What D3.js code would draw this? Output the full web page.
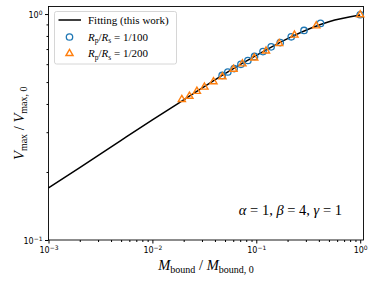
<!DOCTYPE html>
<html>
<head>
<meta charset="utf-8">
<script src="https://cdn.jsdelivr.net/npm/d3@7"></script>
<style>
  body { margin: 0; background: #fff; }
  svg { display: block; }
  .tick text { font-family: "DejaVu Sans", sans-serif; font-size: 8px; fill: #000; }
  .serif { font-family: "Liberation Serif", "DejaVu Serif", serif; fill: #000; }
</style>
</head>
<body>
<div id="chart"></div>
<script>
// fitting curve
var fitX = [0.001, 0.002, 0.005, 0.01, 0.02, 0.05, 0.1, 0.2, 0.5, 1.0];
var fitY = [0.170, 0.209, 0.276, 0.340, 0.417, 0.545, 0.656, 0.779, 0.925, 0.990];

// Rp/Rs = 1/100 (circles)
var circX = [1.0, 0.415, 0.288, 0.217, 0.170, 0.139, 0.116, 0.0962, 0.0830, 0.0711, 0.0612, 0.0532, 0.0469];
var circY = [0.993, 0.909, 0.846, 0.793, 0.748, 0.716, 0.682, 0.649, 0.623, 0.599, 0.574, 0.554, 0.535];

// Rp/Rs = 1/200 (triangles)
var triX = [1.0, 0.378, 0.233, 0.166, 0.124, 0.0955, 0.0736, 0.0603, 0.0472, 0.0387, 0.0317, 0.0268, 0.0227, 0.0192];
var triY = [0.993, 0.887, 0.807, 0.741, 0.687, 0.639, 0.602, 0.570, 0.528, 0.502, 0.475, 0.455, 0.433, 0.419];

var xMajor = [1e-3, 1e-2, 1e-1, 1];
var xLabels = ['-3', '-2', '-1', '0'];
var yMajor = [0.1, 1];
var yLabels = ['-1', '0'];

var width = 374, height = 281;
var padL = 48.5, padR = 363.5, padT = 6.5, padB = 240;

var blue = '#1f77b4', orange = '#ff7f0e';

var svg = d3.select('#chart').append('svg')
    .attr('width', width)
    .attr('height', height);

var x = d3.scaleLog().domain([1e-3, 1.076]).range([padL, padR]);
var y = d3.scaleLog().domain([0.1, 1.08]).range([padB, padT]);

function minorTicks(lo, hi){
    var out = [];
    for(var e = lo; e < hi; e++){
        for(var k = 2; k < 10; k++){
            out.push(k * Math.pow(10, e));
        }
    }
    return out;
}

// minor ticks first
svg.append('g')
    .attr('transform', 'translate(0,' + padB + ')')
    .call(d3.axisBottom(x).tickValues(minorTicks(-3, 0)).tickSize(2).tickSizeOuter(0).tickFormat(''))
    .call(function(g){ g.select('.domain').remove(); });

svg.append('g')
    .attr('transform', 'translate(' + padL + ',0)')
    .call(d3.axisLeft(y).tickValues(minorTicks(-1, 0)).tickSize(2).tickSizeOuter(0).tickFormat(''))
    .call(function(g){ g.select('.domain').remove(); });

// major ticks
var xAxis = svg.append('g')
    .attr('transform', 'translate(0,' + padB + ')')
    .call(d3.axisBottom(x).tickValues(xMajor).tickSize(3.5).tickPadding(3).tickFormat(''));
xAxis.select('.domain').remove();
xAxis.selectAll('.tick text').each(function(d, i){
    var t = d3.select(this).attr('dy', '0.75em');
    t.append('tspan').text('10');
    t.append('tspan').attr('dy', '-0.45em').style('font-size', '6px').text(xLabels[i].replace('-', '\u2212'));
});

var yAxis = svg.append('g')
    .attr('transform', 'translate(' + padL + ',0)')
    .call(d3.axisLeft(y).tickValues(yMajor).tickSize(3.5).tickPadding(2.5).tickFormat(''));
yAxis.select('.domain').remove();
yAxis.selectAll('.tick text').each(function(d, i){
    var t = d3.select(this).attr('dy', '0.4em');
    t.append('tspan').text('10');
    t.append('tspan').attr('dy', '-0.45em').style('font-size', '6px').text(yLabels[i].replace('-', '\u2212'));
});

// frame
svg.append('rect')
    .attr('x', padL).attr('y', padT)
    .attr('width', padR - padL).attr('height', padB - padT)
    .attr('fill', 'none').attr('stroke', '#000').attr('stroke-width', 0.9);

// fitting curve
var fitData = fitX.map(function(v, i){ return [v, fitY[i]]; });
var line = d3.line()
    .x(function(d){ return x(d[0]); })
    .y(function(d){ return y(d[1]); })
    .curve(d3.curveMonotoneX);

svg.append('path')
    .datum(fitData)
    .attr('d', line)
    .attr('fill', 'none')
    .attr('stroke', '#000')
    .attr('stroke-width', 1.5);

// circles
svg.append('g').selectAll('circle')
    .data(circX.map(function(v, i){ return [v, circY[i]]; }))
    .enter().append('circle')
    .attr('cx', function(d){ return x(d[0]); })
    .attr('cy', function(d){ return y(d[1]); })
    .attr('r', 3.2)
    .attr('fill', 'none')
    .attr('stroke', blue)
    .attr('stroke-width', 1.3);

// triangles
var tri = d3.symbol().type(d3.symbolTriangle).size(22);
svg.append('g').selectAll('path')
    .data(triX.map(function(v, i){ return [v, triY[i]]; }))
    .enter().append('path')
    .attr('d', tri)
    .attr('transform', function(d){ return 'translate(' + x(d[0]) + ',' + y(d[1]) + ')'; })
    .attr('fill', 'none')
    .attr('stroke', orange)
    .attr('stroke-width', 1.4);

// legend
var legend = svg.append('g');
legend.append('rect')
    .attr('x', 54.5).attr('y', 11.5)
    .attr('width', 122).attr('height', 52.5)
    .attr('rx', 2)
    .attr('fill', '#fff').attr('fill-opacity', 0.8)
    .attr('stroke', '#ccc').attr('stroke-width', 0.8);

legend.append('line')
    .attr('x1', 58.5).attr('x2', 81)
    .attr('y1', 20).attr('y2', 20)
    .attr('stroke', '#000').attr('stroke-width', 1.5);
legend.append('circle')
    .attr('cx', 69.5).attr('cy', 37).attr('r', 3.2)
    .attr('fill', 'none').attr('stroke', blue).attr('stroke-width', 1.3);
legend.append('path')
    .attr('d', tri)
    .attr('transform', 'translate(69.5,53.5)')
    .attr('fill', 'none').attr('stroke', orange).attr('stroke-width', 1.4);

legend.append('text').attr('class', 'serif')
    .attr('x', 88).attr('y', 23.5)
    .style('font-size', '11px')
    .text('Fitting (this work)');

function ratioLabel(yPos, val){
    var t = legend.append('text').attr('class', 'serif')
        .attr('x', 88).attr('y', yPos)
        .style('font-size', '11px');
    t.append('tspan').style('font-style', 'italic').text('R');
    t.append('tspan').attr('dy', 2.5).style('font-size', '7.5px').text('p');
    t.append('tspan').attr('dy', -2.5).text('/');
    t.append('tspan').style('font-style', 'italic').text('R');
    t.append('tspan').attr('dy', 2.5).style('font-size', '7.5px').text('s');
    t.append('tspan').attr('dy', -2.5).text(' = ' + val);
}
ratioLabel(40.5, '1/100');
ratioLabel(57, '1/200');

// parameter note
var note = svg.append('text').attr('class', 'serif')
    .attr('x', 342).attr('y', 215)
    .attr('text-anchor', 'end')
    .style('font-size', '14.5px');
[['\u03b1', ' = 1, '], ['\u03b2', ' = 4, '], ['\u03b3', ' = 1']].forEach(function(p){
    note.append('tspan').style('font-style', 'italic').text(p[0]);
    note.append('tspan').text(p[1]);
});

// axis labels
var xl = svg.append('text').attr('class', 'serif')
    .attr('x', (padL + padR) / 2).attr('y', 270)
    .attr('text-anchor', 'middle')
    .style('font-size', '14.5px');
xl.append('tspan').style('font-style', 'italic').text('M');
xl.append('tspan').attr('dy', 3).style('font-size', '10px').text('bound');
xl.append('tspan').attr('dy', -3).text(' / ');
xl.append('tspan').style('font-style', 'italic').text('M');
xl.append('tspan').attr('dy', 3).style('font-size', '10px').text('bound, 0');

var yl = svg.append('text').attr('class', 'serif')
    .attr('transform', 'translate(24,' + ((padT + padB) / 2) + ') rotate(-90)')
    .attr('text-anchor', 'middle')
    .style('font-size', '14.5px');
yl.append('tspan').style('font-style', 'italic').text('V');
yl.append('tspan').attr('dy', 3).style('font-size', '10px').text('max');
yl.append('tspan').attr('dy', -3).text(' / ');
yl.append('tspan').style('font-style', 'italic').text('V');
yl.append('tspan').attr('dy', 3).style('font-size', '10px').text('max, 0');
</script>
</body>
</html>
